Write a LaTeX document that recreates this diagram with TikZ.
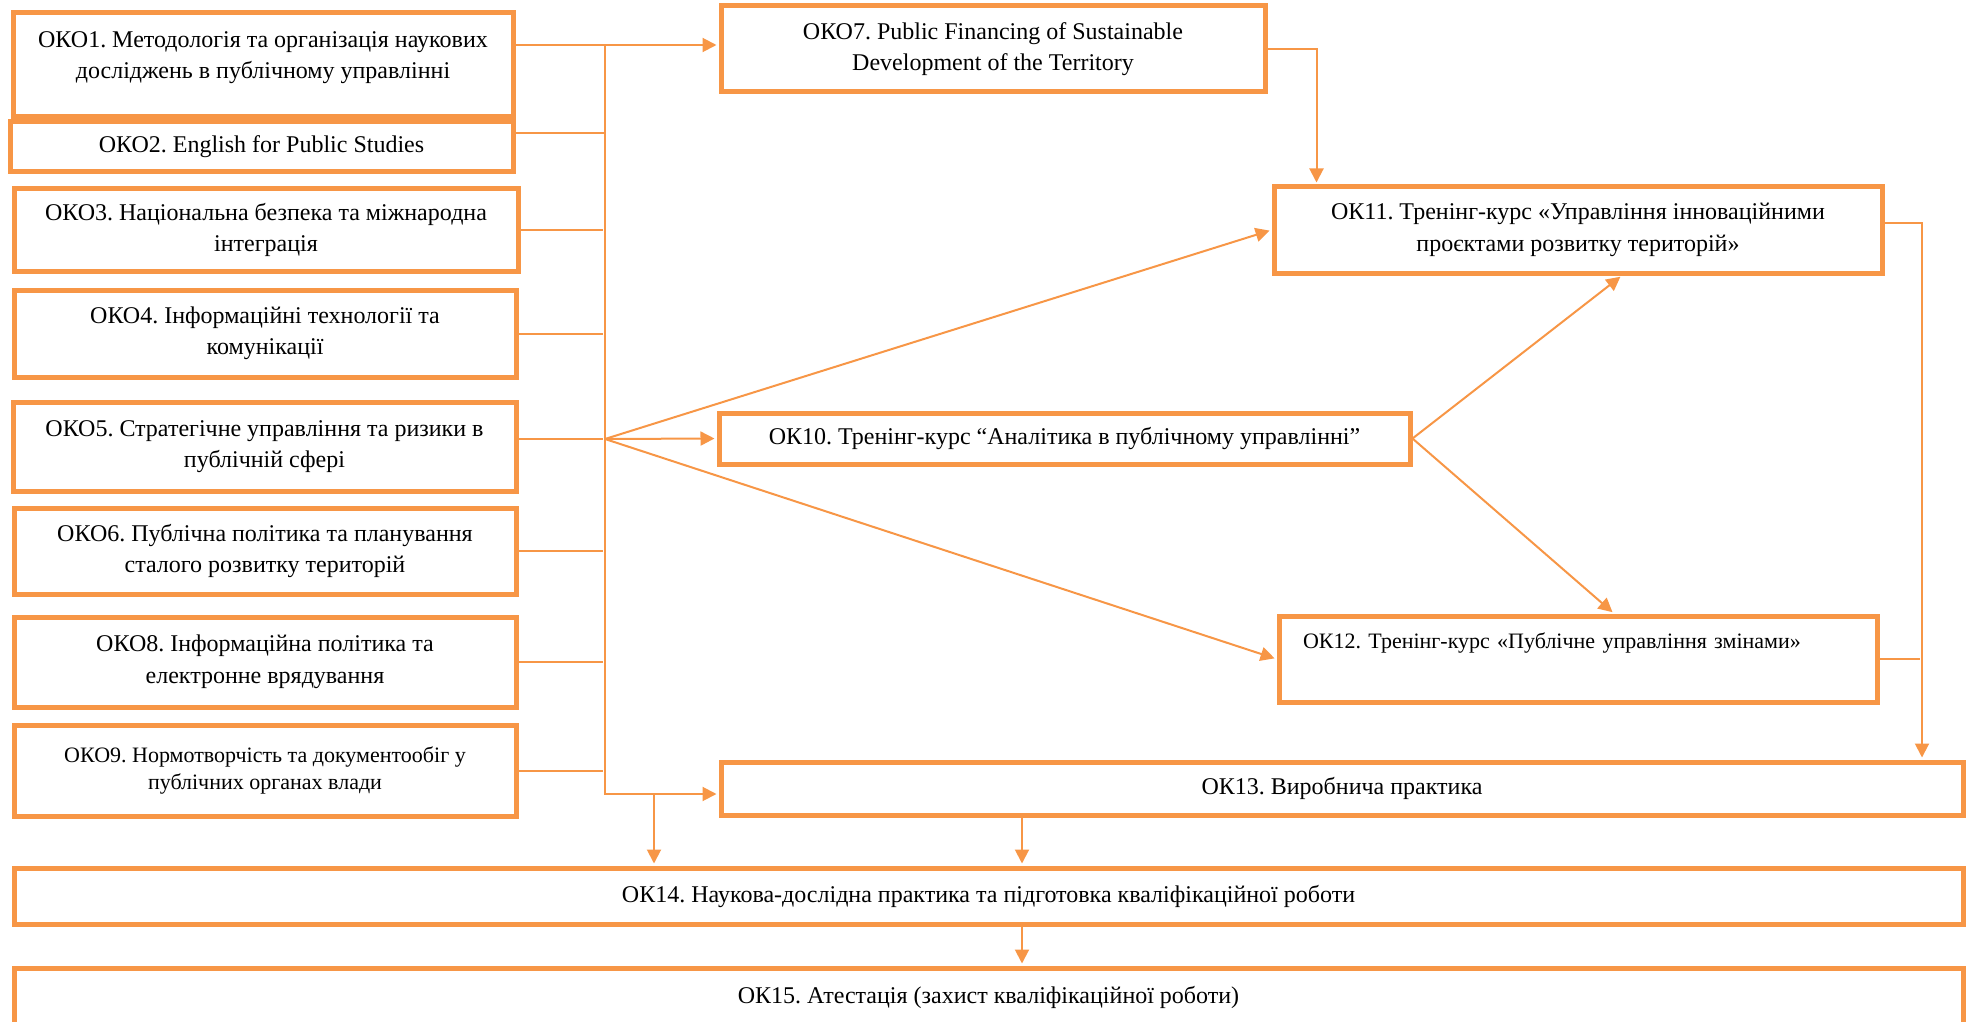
\documentclass[tikz,border=0pt]{standalone}
\usepackage{fontspec}
\setmainfont{Liberation Serif}
\usetikzlibrary{arrows.meta,calc}
\definecolor{okorange}{HTML}{F79646}
\frenchspacing

\begin{document}
\begin{tikzpicture}[x=0.5pt,y=-0.5pt,>={Triangle[length=7pt,width=7pt]},shorten >=1pt,
	course/.style={rectangle,draw=okorange,line width=2.5pt,align=center,inner sep=2pt,
		font=\fontsize{12}{15.75}\selectfont},
	smalltext/.style={font=\fontsize{11}{13.8}\selectfont},
	link/.style={draw=okorange,line width=1pt}]
	\useasboundingbox (0,0) rectangle (1972,1022);

	% left column
	\node[course,minimum width=250pt,minimum height=52pt] (oko1) at (263,65) {ОКО1. Методологія та організація наукових\\досліджень в публічному управлінні\\[-6pt]\mbox{}};
	\node[course,minimum width=251.5pt,minimum height=25pt] (oko2) at (261.5,147) {ОКО2. English for Public Studies};
	\node[course,minimum width=252pt,minimum height=41pt] (oko3) at (266,230) {ОКО3. Національна безпека та міжнародна\\інтеграція};
	\node[course,minimum width=251pt,minimum height=43.5pt] (oko4) at (265,333.5) {ОКО4. Інформаційні технології та\\комунікації};
	\node[course,minimum width=251.5pt,minimum height=44.5pt] (oko5) at (264.5,446.5) {ОКО5. Стратегічне управління та ризики в\\публічній сфері};
	\node[course,minimum width=251pt,minimum height=43pt] (oko6) at (265,551) {ОКО6. Публічна політика та планування\\сталого розвитку територій};
	\node[course,minimum width=251pt,minimum height=45pt] (oko8) at (265,662) {ОКО8. Інформаційна політика та\\електронне врядування};
	\node[course,smalltext,minimum width=251pt,minimum height=45.5pt] (oko9) at (265,770.5) {ОКО9. Нормотворчість та документообіг у\\публічних органах влади};

	% right part
	\node[course,minimum width=272pt,minimum height=43pt] (oko7) at (993,49) {ОКО7. Public Financing of Sustainable\\Development of the Territory};
	\node[course,minimum width=304pt,minimum height=43pt] (ok11) at (1578,230) {ОК11. Тренінг-курс «Управління інноваційними\\проєктами розвитку територій»};
	\node[course,minimum width=345.5pt,minimum height=25.5pt] (ok10) at (1064.5,438.5) {ОК10. Тренінг-курс “Аналітика в публічному управлінні”};
	\node[course,smalltext,align=left,text width=275pt,inner xsep=12pt,minimum height=43pt] (ok12) at (1578,659) {ОК12. Тренінг-курс «Публічне управління змінами»\\[5pt]\mbox{}};
	\node[course,minimum width=621pt,minimum height=26.5pt] (ok13) at (1342,788.5) {ОК13. Виробнича практика};
	\node[course,minimum width=974.5pt,minimum height=28pt] (ok14) at (988.5,896) {ОК14. Наукова-дослідна практика та підготовка кваліфікаційної роботи};
	\node[course,minimum width=974.5pt,minimum height=29pt] (ok15) at (988.5,997) {ОК15. Атестація (захист кваліфікаційної роботи)};

	\coordinate (bustop) at (605,45);
	\coordinate (busbot) at (605,794);
	\coordinate (fan) at (605,439);
	\coordinate (rbus) at (1922,0);
	\coordinate (drop) at (654,0);
	\coordinate (mid) at (1022,0);

	% bus on the left
	\draw[link,->] (oko1.east |- bustop) -- (oko7.west |- bustop);
	\draw[link] ([yshift=7pt]oko2.east) -| (bustop);
	\foreach \n in {3,4,6,8,9}
		\draw[link] (oko\n.east) -- (oko\n.east -| bustop);
	\draw[link] (oko5.east |- fan) -- (fan);
	\draw[link,->] (bustop) -- (busbot) -- (ok13.west |- busbot);

	\path[->] (fan) edge[link] (ok11.west)
		edge[link] (ok10.west)
		edge[link] (ok12.west);
	\path[->] (ok10.east) edge[link] ([xshift=22pt]ok11.south)
		edge[link] ([xshift=18pt]ok12.north);

	\draw[link,->] (oko7.east) -| ([xshift=22.5pt]ok11.north west);
	\draw[link,->] ([yshift=3.5pt]ok11.east) -| (ok13.north -| rbus);
	\draw[link] (ok12.east) -- (ok12.east -| rbus);

	% down to the last two
	\draw[link,->] (busbot -| drop) -- (ok14.north -| drop);
	\draw[link,->] (ok13.south -| mid) -- (ok14.north -| mid);
	\draw[link,->] (ok14.south -| mid) -- (ok15.north -| mid);
\end{tikzpicture}
\end{document}
